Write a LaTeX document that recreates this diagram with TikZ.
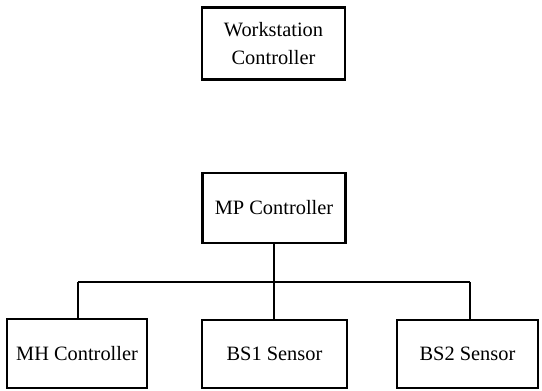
\documentclass[tikz,border=0pt]{standalone}
\usepackage{fontspec}
\setmainfont{Liberation Serif}
\usepackage{tikz}
\usetikzlibrary{calc}
\tikzset{unit/.style={draw, line width=1.2pt, fill=white, align=center, inner sep=2pt, font=\fontsize{11.6}{15.4}\selectfont}}
\tikzset{wide/.style={unit, minimum width=2.86cm, minimum height=1.44cm}}
\tikzset{leaf/.style={unit, minimum width=#1, minimum height=1.37cm}}
\tikzset{leaf/.default=2.84cm}
\tikzset{wire/.style={line width=1.2pt}}

\begin{document}
\begin{tikzpicture}
\useasboundingbox (0,0) rectangle (10.84,7.82);

\node (ws) at (5.47,6.95)[wide]{Workstation\\Controller};
\node (mp) at (5.48,3.66)[wide, minimum height=1.40cm]{MP Controller};

%sensors and handler
\node (mh) at (1.54,0.75)[leaf=2.80cm]{MH Controller};
\node (bs1) at (5.49,0.74)[leaf=2.90cm]{BS1 Sensor};
\node (bs2) at (9.35,0.74)[leaf=2.82cm]{BS2 Sensor};

\coordinate (bus) at (5.49,2.18);
\coordinate (busl) at (1.56,2.18);
\coordinate (busr) at (9.40,2.18);
\draw[wire] (mp.south)--(mp.south |- bs1.north){};
\draw[wire] (busl)--(busr){};
\draw[wire] (busl)--(busl |- mh.north){};
\draw[wire] (busr)--(busr |- bs2.north){};

\end{tikzpicture}
\end{document}
